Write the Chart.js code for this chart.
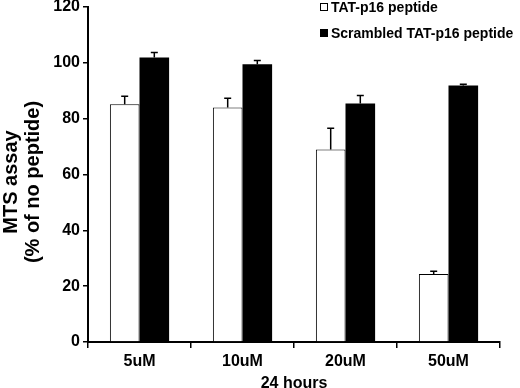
<!DOCTYPE html>
<html>
<head>
<meta charset="utf-8">
<script src="https://cdn.jsdelivr.net/npm/chart.js@4"></script>
<style>
html,body{margin:0;padding:0;background:#fff;}
#wrap{width:520px;height:388px;position:relative;}
</style>
</head>
<body>
<div id="wrap"><canvas id="c" width="520" height="388"></canvas></div>
<script>
const categories = ['5uM', '10uM', '20uM', '50uM'];
const seriesNames = ['TAT-p16 peptide', 'Scrambled TAT-p16 peptide'];
const tatValues = [85.2, 84.0, 69.0, 24.4];
const tatErrors = [2.8, 3.3, 7.6, 0.9];
const scrValues = [101.9, 99.5, 85.4, 91.9];
const scrErrors = [1.8, 1.3, 2.9, 0.4];
const yTicks = [0, 20, 40, 60, 80, 100, 120];
const xTitle = '24 hours';
const yTitle = ['MTS assay', '(% of no peptide)'];

const FONT = '"Liberation Sans", Arial, sans-serif';

const errorBars = {
  id: 'errorBars',
  afterDatasetsDraw(chart) {
    const ctx = chart.ctx;
    const y = chart.scales.y;
    ctx.save();
    ctx.strokeStyle = '#000';
    ctx.lineWidth = 1.5;
    chart.data.datasets.forEach((ds, i) => {
      const meta = chart.getDatasetMeta(i);
      meta.data.forEach((bar, j) => {
        const top = y.getPixelForValue(ds.data[j] + ds.errors[j]);
        ctx.beginPath();
        ctx.moveTo(bar.x, bar.y);
        ctx.lineTo(bar.x, top);
        ctx.moveTo(bar.x - 3.5, top);
        ctx.lineTo(bar.x + 3.5, top);
        ctx.stroke();
      });
    });
    ctx.restore();
  }
};

const yTitlePlugin = {
  id: 'yTitlePlugin',
  afterDraw(chart) {
    const ctx = chart.ctx;
    ctx.save();
    ctx.font = 'bold 20px ' + FONT;
    ctx.fillStyle = '#000';
    ctx.textAlign = 'center';
    ctx.textBaseline = 'middle';
    ctx.translate(0, 182);
    ctx.rotate(-Math.PI / 2);
    const xs = [11, 33];
    yTitle.forEach((t, i) => ctx.fillText(t, 0, xs[i]));
    ctx.restore();
  }
};

const customLegend = {
  id: 'customLegend',
  afterDraw(chart) {
    const ctx = chart.ctx;
    ctx.save();
    ctx.font = 'bold 14px ' + FONT;
    ctx.textBaseline = 'middle';
    ctx.fillStyle = '#000';
    const rows = [7, 33];
    chart.data.datasets.forEach((ds, i) => {
      const yy = rows[i];
      const bx = 320;
      ctx.lineWidth = 1;
      ctx.strokeStyle = '#000';
      ctx.fillStyle = ds.backgroundColor;
      ctx.fillRect(bx, yy - 4, 8, 8);
      ctx.strokeRect(bx + 0.5, yy - 3.5, 7, 7);
      ctx.fillStyle = '#000';
      ctx.fillText(ds.label, bx + 11, yy + 1);
    });
    ctx.restore();
  }
};

new Chart(document.getElementById('c'), {
  type: 'bar',
  data: {
    labels: categories,
    datasets: [
      { label: seriesNames[0], data: tatValues, errors: tatErrors,
        backgroundColor: '#ffffff', borderColor: '#000000', borderWidth: 1,
        categoryPercentage: 0.575, barPercentage: 1.0 },
      { label: seriesNames[1], data: scrValues, errors: scrErrors,
        backgroundColor: '#000000', borderColor: '#000000', borderWidth: 0,
        categoryPercentage: 0.575, barPercentage: 1.0 }
    ]
  },
  options: {
    responsive: false,
    animation: false,
    layout: { padding: { top: 7, right: 20, left: 0, bottom: -5 } },
    plugins: { legend: { display: false }, tooltip: { enabled: false } },
    scales: {
      x: {
        grid: { offset: true, drawOnChartArea: false, drawTicks: true, tickLength: 6, color: '#000', lineWidth: 1.5 },
        border: { color: '#000', width: 2 },
        ticks: { color: '#000', font: { family: FONT, size: 16, weight: 'bold' }, padding: 4 },
        title: { display: true, text: xTitle, color: '#000', font: { family: FONT, size: 16, weight: 'bold' }, padding: { top: 0, bottom: 0 } },
        afterFit(s) { s.height = 51; s.paddingLeft = 0; s.paddingRight = 0; }
      },
      y: {
        min: 0, max: 120,
        afterBuildTicks(s) { s.ticks = yTicks.map(v => ({ value: v })); },
        grid: { drawOnChartArea: false, drawTicks: true, tickLength: 5, color: '#000', lineWidth: 1.5 },
        border: { color: '#000', width: 2 },
        ticks: { color: '#000', font: { family: FONT, size: 16, weight: 'bold' }, padding: 3 },
        title: { display: false },
        afterFit(s) { s.width = 88; s.paddingTop = 0; s.paddingBottom = 0; }
      }
    }
  },
  plugins: [errorBars, yTitlePlugin, customLegend]
});
</script>
</body>
</html>
